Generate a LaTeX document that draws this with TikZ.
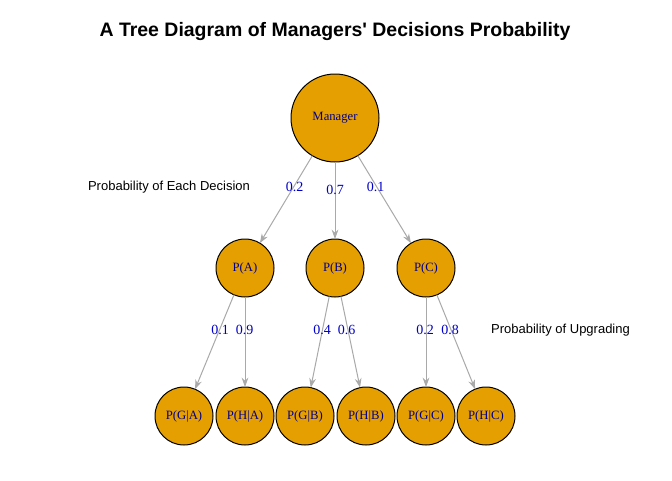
\documentclass[tikz,border=0pt]{standalone}
\usepackage{fontspec}
\setmainfont{Liberation Serif}
\setsansfont{Liberation Sans}
\newfontfamily\titlefont{Liberation Sans}[Ligatures=TeXOff]
\usetikzlibrary{arrows.meta}
\definecolor{nodefill}{HTML}{E69F00}
\definecolor{edgegray}{HTML}{A9A9A9}
\definecolor{lblblue}{HTML}{00008B}
\definecolor{elblue}{HTML}{0000C8}
\begin{document}
\begin{tikzpicture}[x=0.75pt,y=-0.75pt,
  vtx/.style={circle,draw=black,fill=nodefill,line width=0.75pt,inner sep=0pt,outer sep=0pt,minimum size=#1,font=\fontsize{9.5}{11}\selectfont,text=lblblue},
  conn/.style={draw=edgegray,line width=0.75pt,-{Stealth[length=7pt,width=5pt]}},
  elab/.style={font=\fontsize{10.5}{12}\selectfont,text=elblue,inner sep=0pt},
  side/.style={font=\sffamily\fontsize{9.75}{11}\selectfont,inner sep=0pt}]
\useasboundingbox (0,0) rectangle (672,480);
\fill[white] (0,0) rectangle (672,480);
\node[font=\titlefont\bfseries\fontsize{14.6}{17}\selectfont,inner sep=0pt] (title) at (335,32) {A Tree Diagram of Managers' Decisions Probability};

\node[vtx=66pt] (M) at (335,118) {Manager};
\node[vtx=43.5pt] (A) at (245,268) {P(A)};
\node[vtx=43.5pt] (B) at (335,268) {P(B)};
\node[vtx=43.5pt] (C) at (426,268) {P(C)};
\node[vtx=43.5pt] (GA) at (184,416) {P(G|A)};
\node[vtx=43.5pt] (HA) at (245,416) {P(H|A)};
\node[vtx=43.5pt] (GB) at (305,416) {P(G|B)};
\node[vtx=43.5pt] (HB) at (366,416) {P(H|B)};
\node[vtx=43.5pt] (GC) at (426,416) {P(G|C)};
\node[vtx=43.5pt] (HC) at (486,416) {P(H|C)};

\draw[conn] (M) -- (A);
\draw[conn] (M) -- (B);
\draw[conn] (M) -- (C);
\draw[conn] (A) -- (GA);
\draw[conn] (A) -- (HA);
\draw[conn] (B) -- (GB);
\draw[conn] (B) -- (HB);
\draw[conn] (C) -- (GC);
\draw[conn] (C) -- (HC);

\node[elab] (l1) at (294.5,187) {0.2};
\node[elab] (l2) at (335,190) {0.7};
\node[elab] (l3) at (375.5,187) {0.1};
\node[elab] (l4) at (220,330) {0.1};
\node[elab] (l5) at (244.5,330) {0.9};
\node[elab] (l6) at (322,330) {0.4};
\node[elab] (l7) at (346.5,330) {0.6};
\node[elab] (l8) at (425,330) {0.2};
\node[elab] (l9) at (450,330) {0.8};

\node[side] (d1) at (169,187) {Probability of Each Decision};
\node[side] (d2) at (560.5,330) {Probability of Upgrading};
\end{tikzpicture}
\end{document}
